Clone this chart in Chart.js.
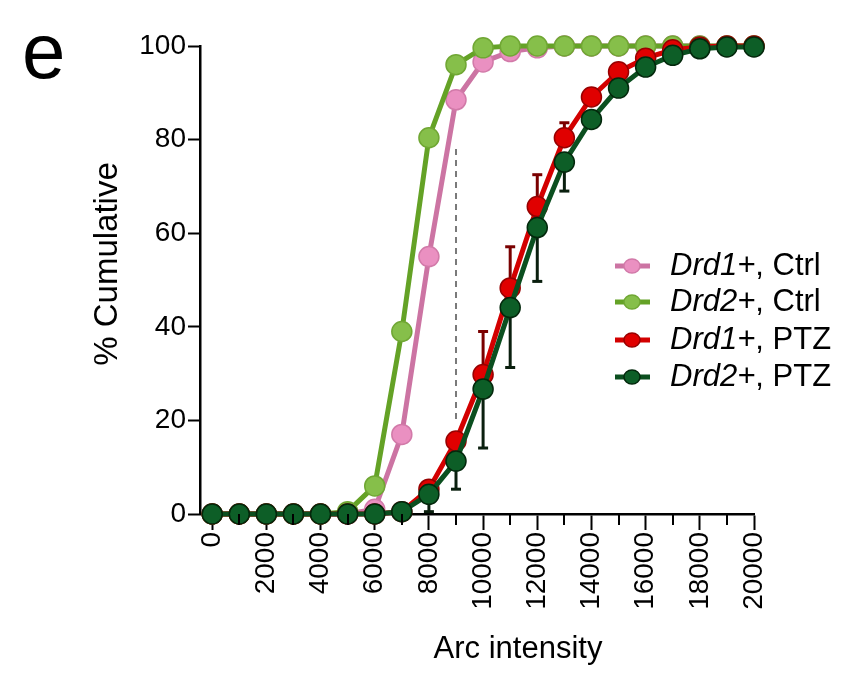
<!DOCTYPE html>
<html><head><meta charset="utf-8">
<script src="https://cdn.jsdelivr.net/npm/chart.js@4.4.0/dist/chart.umd.min.js"></script>
<style>html,body{margin:0;padding:0;background:#fff;}#wrap{position:relative;width:845px;height:673px;}</style>
</head><body><div id="wrap"><canvas id="c" width="845" height="673"></canvas></div>
<script>
const xValues = [0,1000,2000,3000,4000,5000,6000,7000,8000,9000,10000,11000,12000,13000,14000,15000,16000,17000,18000,19000,20000];
const xTicks = [0,1000,2000,3000,4000,5000,6000,7000,8000,9000,10000,11000,12000,13000,14000,15000,16000,17000,18000,19000,20000];
const yTicks = [0,20,40,60,80,100];
const seriesNames = ['Drd1+', 'Drd2+', 'Drd1+', 'Drd2+'];
const seriesSuffix = [', Ctrl', ', Ctrl', ', PTZ', ', PTZ'];
const drd1Ctrl = [0,0,0,0,0,0,1,17,55,88.5,96.6,98.8,99.6,100,100,100,100,100,100,100,100];
const drd2Ctrl = [0,0,0,0,0,0.5,6,39,80.4,96,99.6,100,100,100,100,100,100,100,100,100,100];
const drd1PTZ = [0,0,0,0,0,0,0,0.5,5.3,15.6,29.8,48.3,65.7,80.4,89.1,94.5,97.4,99.2,99.8,100,100];
const drd2PTZ = [0,0,0,0,0,0,0,0.5,4.2,11.3,26.7,44.1,61.2,75.2,84.3,91,95.5,98,99.4,99.8,99.8];
const drd1PTZErrUp = [0,0,0,0,0,0,0,0,0,0,9.2,8.8,6.8,3.2,0,0,0,0,0,0,0];
const drd2PTZErrDown = [0,0,0,0,0,0,0,0,3.7,6,12.6,12.8,11.5,6.2,0,0,0,0,0,0,0];
const thresholdX = [9000, 9000];
const thresholdY = [20.3, 79];

const FONT = "'Liberation Sans', Arial, Helvetica, sans-serif";
const pts = arr => xValues.map((x, i) => ({x: x, y: arr[i]}));

const styles = [
  {line:'#cc74a3', fill:'#ea90c1', edge:'#d27aa9'},
  {line:'#64a226', fill:'#86bf4a', edge:'#70a734'},
  {line:'#d30000', fill:'#e00000', edge:'#980000'},
  {line:'#0b4f1f', fill:'#0d5e27', edge:'#03280c'}
];
const seriesData = [drd1Ctrl, drd2Ctrl, drd1PTZ, drd2PTZ];
const orders = [3, 2, 1, 0];

const datasets = seriesData.map((arr, i) => ({
  label: seriesNames[i] + seriesSuffix[i],
  data: pts(arr),
  borderColor: styles[i].line,
  backgroundColor: styles[i].fill,
  pointBackgroundColor: styles[i].fill,
  pointBorderColor: styles[i].edge,
  pointBorderWidth: 1.5,
  pointRadius: 10,
  borderWidth: 5,
  tension: 0,
  clip: false,
  order: orders[i]
}));
datasets.push({
  label: 'threshold',
  data: thresholdX.map((x, i) => ({x: x, y: thresholdY[i]})),
  borderColor: '#7a7a7a',
  borderWidth: 2,
  borderDash: [6, 5],
  pointRadius: 0,
  order: 10,
  clip: false
});

const errorSpecs = [
  {ds: 2, err: drd1PTZErrUp, up: true, color: '#7a0000'},
  {ds: 3, err: drd2PTZErrDown, up: false, color: '#0a1f0e'}
];

const extras = {
  id: 'extras',
  beforeDatasetsDraw(chart) {
    const ctx = chart.ctx, xs = chart.scales.x, ys = chart.scales.y;
    ctx.save();
    errorSpecs.forEach(spec => {
      const vals = seriesData[spec.ds];
      ctx.strokeStyle = spec.color;
      ctx.lineWidth = 3;
      spec.err.forEach((e, i) => {
        if (!e) return;
        const px = xs.getPixelForValue(xValues[i]);
        const y0 = ys.getPixelForValue(vals[i]);
        const yt = ys.getPixelForValue(spec.up ? vals[i] + e : vals[i] - e);
        ctx.beginPath(); ctx.moveTo(px, y0); ctx.lineTo(px, yt); ctx.stroke();
        ctx.beginPath(); ctx.moveTo(px - 5, yt); ctx.lineTo(px + 5, yt); ctx.stroke();
      });
    });
    ctx.restore();
  },
  afterDraw(chart) {
    const ctx = chart.ctx, xs = chart.scales.x, area = chart.chartArea;
    ctx.save();
    ctx.strokeStyle = '#000'; ctx.lineWidth = 2;
    xTicks.forEach(v => {
      if (v % 2000 === 0) return;
      const px = Math.round(xs.getPixelForValue(v));
      ctx.beginPath(); ctx.moveTo(px, area.bottom); ctx.lineTo(px, area.bottom + 11); ctx.stroke();
    });
    ctx.fillStyle = '#000';
    ctx.font = '78px ' + FONT;
    ctx.textAlign = 'left'; ctx.textBaseline = 'alphabetic';
    ctx.fillText('e', 22, 78);
    ctx.font = '31px ' + FONT;
    ctx.textAlign = 'center'; ctx.textBaseline = 'middle';
    ctx.fillText('Arc intensity', 518, 649);
    ctx.save();
    ctx.font = '33px ' + FONT;
    ctx.translate(108, 264); ctx.rotate(-Math.PI / 2);
    ctx.fillText('% Cumulative', 0, 0);
    ctx.restore();
    const rowsY = [266, 302, 340, 377];
    rowsY.forEach((ry, i) => {
      ctx.strokeStyle = styles[i].line; ctx.lineWidth = 5;
      ctx.beginPath(); ctx.moveTo(615, ry); ctx.lineTo(650, ry); ctx.stroke();
      ctx.fillStyle = styles[i].fill; ctx.strokeStyle = styles[i].edge; ctx.lineWidth = 1.5;
      ctx.beginPath(); ctx.ellipse(632, ry, 8, 7, 0, 0, Math.PI * 2); ctx.fill(); ctx.stroke();
      ctx.fillStyle = '#000';
      ctx.textAlign = 'left'; ctx.textBaseline = 'middle';
      ctx.font = 'italic 31px ' + FONT;
      ctx.fillText(seriesNames[i], 670, ry);
      const w = ctx.measureText(seriesNames[i]).width;
      ctx.font = '31px ' + FONT;
      ctx.fillText(seriesSuffix[i], 670 + w, ry);
    });
    ctx.restore();
  }
};

new Chart(document.getElementById('c'), {
  type: 'line',
  data: {datasets: datasets},
  options: {
    responsive: false,
    animation: false,
    devicePixelRatio: 1,
    layout: {padding: {left: 0, right: 91, top: 46, bottom: 0}},
    plugins: {legend: {display: false}, tooltip: {enabled: false}},
    scales: {
      x: {
        type: 'linear', min: -450, max: 20000,
        afterBuildTicks: s => { s.ticks = xTicks.map(v => ({value: v})); },
        afterFit: s => { s.height = 159; },
        border: {display: true, color: '#000', width: 2.5},
        grid: {drawOnChartArea: false, drawTicks: true, tickLength: 16, tickWidth: 2,
               tickColor: c => (c.tick && c.tick.value % 2000 === 0) ? '#000' : 'rgba(0,0,0,0)'},
        ticks: {autoSkip: false, minRotation: 90, maxRotation: 90, padding: 2, color: '#000',
                font: {family: FONT, size: 28},
                callback: v => (v % 2000 === 0 ? String(v) : '')}
      },
      y: {
        type: 'linear', min: 0, max: 100,
        afterBuildTicks: s => { s.ticks = yTicks.map(v => ({value: v})); },
        afterFit: s => { s.width = 200; },
        border: {display: true, color: '#000', width: 2.5},
        grid: {drawOnChartArea: false, drawTicks: true, tickLength: 12, tickWidth: 2, tickColor: '#000'},
        ticks: {padding: 2, color: '#000', font: {family: FONT, size: 28}}
      }
    }
  },
  plugins: [extras]
});
</script></body></html>
